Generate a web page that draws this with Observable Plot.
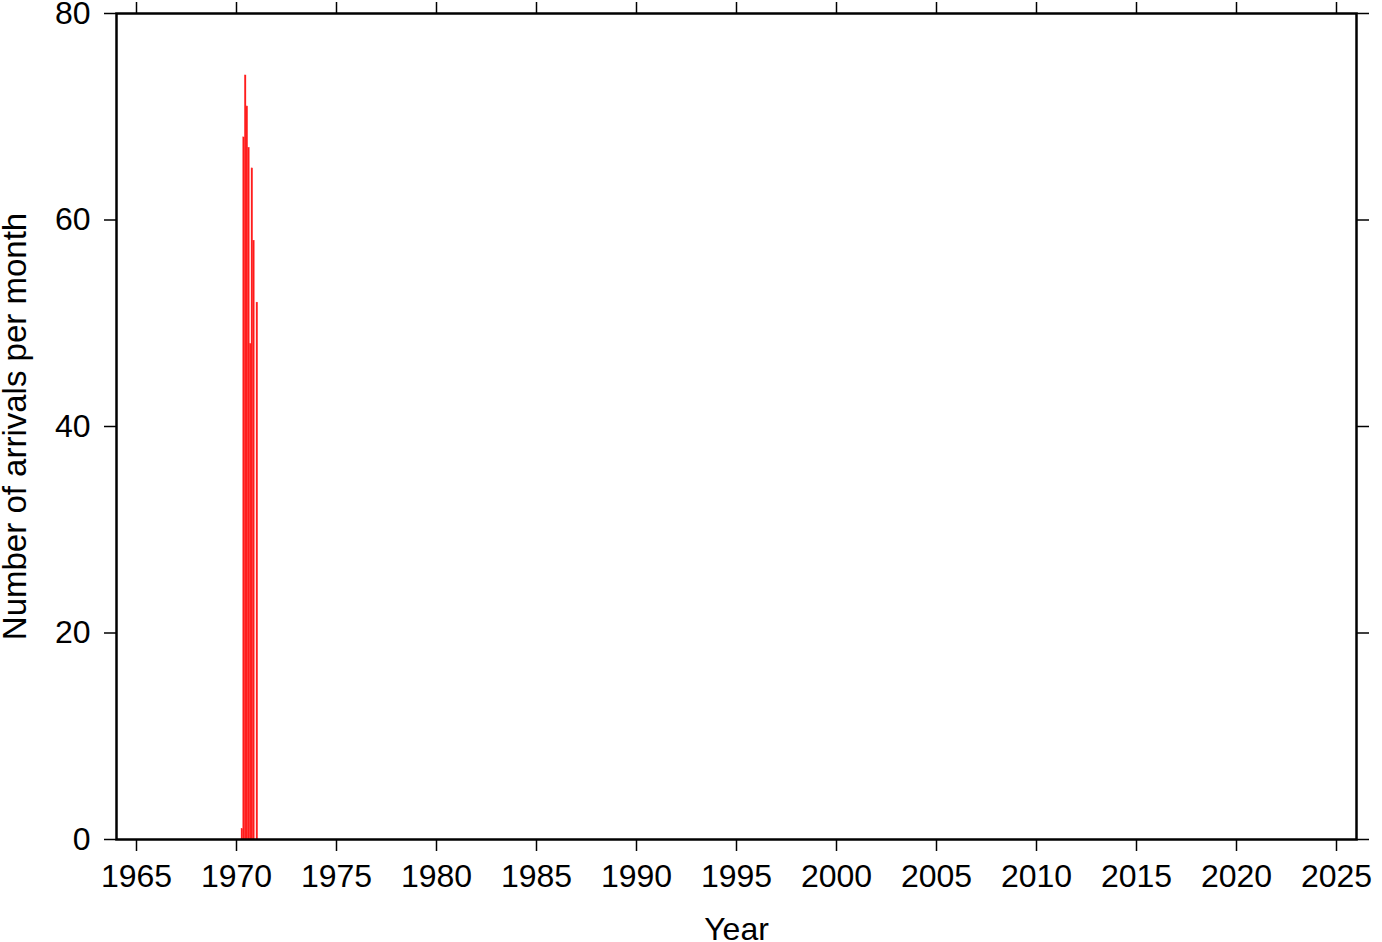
<!DOCTYPE html>
<html>
<head>
<meta charset="utf-8">
<script src="https://cdn.jsdelivr.net/npm/d3@7"></script>
<script src="https://cdn.jsdelivr.net/npm/@observablehq/plot@0.6"></script>
<style>
  html, body { margin: 0; padding: 0; background: #fff; }
  #chart svg { display: block; overflow: visible; }
</style>
</head>
<body>
<div id="chart"></div>
<script>
// Monthly arrival counts (year, month 1-12, count)
const years  = [1970, 1970, 1970, 1970, 1970, 1970, 1970, 1970, 1970, 1971];
const months = [4, 5, 6, 7, 8, 9, 10, 11, 12, 1];
const counts = [1, 68, 74, 71, 67, 48, 65, 58, 0, 52];

const xTicks = [1965, 1970, 1975, 1980, 1985, 1990, 1995, 2000, 2005, 2010, 2015, 2020, 2025];
const yTicks = [0, 20, 40, 60, 80];

const data = years.map((y, i) => ({
  start: y + (months[i] - 1) / 12,
  end: y + months[i] / 12,
  count: counts[i]
}));

const font = "'Liberation Sans', Arial, Helvetica, sans-serif";

const chart = Plot.plot({
  width: 1382,
  height: 942,
  marginLeft: 116,
  marginRight: 26,
  marginTop: 13,
  marginBottom: 103,
  style: { fontFamily: font, background: "#fff", color: "#000", overflow: "visible" },
  x: { domain: [1964, 2026] },
  y: { domain: [0, 80] },
  marks: [
    Plot.rectY(data, { x1: "start", x2: "end", y: "count", fill: "#ff1a1a", stroke: "#ff3030", strokeWidth: 0.3 }),
    Plot.axisX({ anchor: "bottom", ticks: xTicks, tickFormat: "d", tickSize: 12, tickPadding: 13, fontSize: 32, strokeWidth: 1.5, label: null }),
    Plot.axisX({ anchor: "top", ticks: xTicks, tickFormat: () => "", tickSize: 12, strokeWidth: 1.5, label: null }),
    Plot.axisY({ anchor: "left", ticks: yTicks, tickFormat: "d", tickSize: 12, tickPadding: 14, fontSize: 32, strokeWidth: 1.5, label: null }),
    Plot.axisY({ anchor: "right", ticks: yTicks, tickFormat: () => "", tickSize: 12, strokeWidth: 1.5, label: null }),
    Plot.frame({ stroke: "#000", strokeWidth: 2.5 }),
    Plot.text(["Year"], { frameAnchor: "bottom", dy: 90, lineAnchor: "middle", textAnchor: "middle", fontSize: 32, fill: "#000" }),
    Plot.text(["Number of arrivals per month"], { frameAnchor: "left", dx: -101, rotate: -90, textAnchor: "middle", lineAnchor: "middle", fontSize: 33, fill: "#000" })
  ]
});

document.getElementById("chart").appendChild(chart);
</script>
</body>
</html>
